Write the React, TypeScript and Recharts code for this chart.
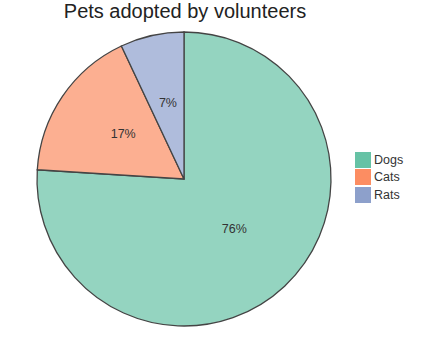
import { Cell, Legend, Pie, PieChart } from "recharts";

const pets = ["Dogs", "Cats", "Rats"];
const shares = [76, 17, 7];

const SLICE_FILL = ["#94d4c0", "#fcaf91", "#afbcdc"];
const SWATCH = ["#66c2a5", "#fc8d62", "#8da0cb"];
const FONT = "'Liberation Sans', Arial, sans-serif";

const data = pets.map((name, i) => ({ name, value: shares[i] }));

const RAD = Math.PI / 180;

function PctLabel(props: any) {
  const { cx, cy, midAngle, outerRadius, percent } = props;
  const r = outerRadius * 0.5;
  const x = cx + r * Math.cos(-midAngle * RAD);
  const y = cy + r * Math.sin(-midAngle * RAD) - 4;
  return (
    <text
      x={x}
      y={y}
      fill="#333"
      fontSize={12.5}
      fontFamily={FONT}
      textAnchor="middle"
      dominantBaseline="central"
    >
      {`${Math.round(percent * 100)}%`}
    </text>
  );
}

function PetLegend() {
  return (
    <div style={{ fontFamily: FONT, fontSize: 12.5, color: "#333" }}>
      {pets.map((p, i) => (
        <div key={p} style={{ display: "flex", alignItems: "center", height: 17.5 }}>
          <span
            style={{
              display: "inline-block",
              width: 16,
              height: 16,
              background: SWATCH[i],
              marginRight: 3,
            }}
          />
          <span>{p}</span>
        </div>
      ))}
    </div>
  );
}

export default function App() {
  return (
    <div style={{ position: "fixed", left: 0, top: 0, width: 421, height: 358, background: "#fff" }}>
      <div
        style={{
          position: "absolute",
          left: 0,
          top: 0,
          width: 370,
          textAlign: "center",
          fontFamily: FONT,
          fontSize: 20,
          color: "#222",
        }}
      >
        Pets adopted by volunteers
      </div>
      <PieChart width={421} height={358} margin={{ top: 0, right: 0, bottom: 0, left: 0 }}>
        <Pie
          data={data}
          dataKey="value"
          nameKey="name"
          cx={184}
          cy={179}
          outerRadius={147}
          startAngle={90}
          endAngle={-270}
          stroke="#444"
          strokeWidth={1.3}
          label={PctLabel}
          labelLine={false}
          isAnimationActive={false}
        >
          {data.map((d, i) => (
            <Cell key={d.name} fill={SLICE_FILL[i]} />
          ))}
        </Pie>
        <Legend
          content={<PetLegend />}
          wrapperStyle={{ position: "absolute", left: 355, top: 151, width: 60, bottom: "auto" }}
        />
      </PieChart>
    </div>
  );
}
